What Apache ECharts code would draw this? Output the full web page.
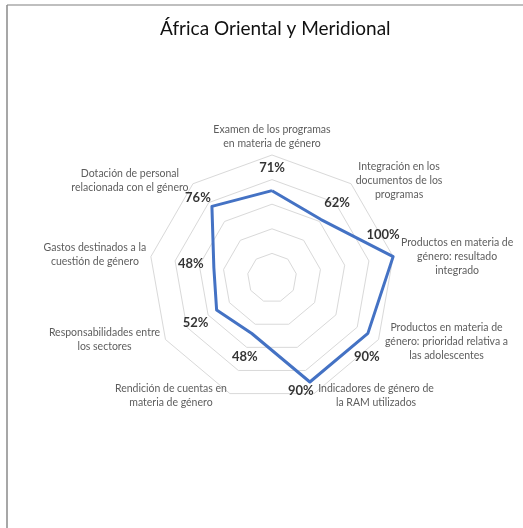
<!DOCTYPE html>
<html>
<head>
<meta charset="utf-8">
<script src="https://cdn.jsdelivr.net/npm/echarts@6/dist/echarts.min.js"></script>
<style>
  html, body { margin: 0; padding: 0; background: #ffffff; }
  #chart { width: 523px; height: 528px; }
</style>
</head>
<body>
<div id="chart"></div>
<script>
// Indicators, listed clockwise starting at the top
const categories = [
  'Examen de los programas\nen materia de género',
  'Integración en los\ndocumentos de los\nprogramas',
  'Productos en materia de\ngénero: resultado\nintegrado',
  'Productos en materia de\ngénero: prioridad relativa a\nlas adolescentes',
  'Indicadores de género de\nla RAM utilizados',
  'Rendición de cuentas en\nmateria de género',
  'Responsabilidades entre\nlos sectores',
  'Gastos destinados a la\ncuestión de género',
  'Dotación de personal\nrelacionada con el género'
];
// Share of criteria met per indicator
const values = [0.71, 0.62, 1.00, 0.90, 0.90, 0.48, 0.52, 0.48, 0.76];
// Ring scale
const scaleMax = 1;
const ringCount = 5;

// Label placement (pixel nudges from each point)
const valueLabelOffsets = [
  [0, -23], [16, -17], [-10, -22], [-1, 23], [-9, 9],
  [-7, 23], [-21, 13], [-23, -4], [-14, -9]
];
const nameLabelOffsets = [
  [0, -18], [48, -3], [64, 0], [68, 2], [62, 2],
  [-59, 2], [-61, 0], [-56, -2], [-63, -3]
];

const CENTER = [272, 278];
const RADIUS = 123;
const FONT = 'Lato, "Noto Sans", sans-serif';

// Radar lays indicators out counter-clockwise; feed it in that order
const ccwOrder = [0].concat(categories.map((_, i) => i).slice(1).reverse());

const chart = echarts.init(document.getElementById('chart'), null, { renderer: 'canvas' });

const fmtPct = v => Math.round(v * 100) + '%';

chart.setOption({
  animation: false,
  backgroundColor: '#ffffff',
  title: {
    text: 'África Oriental y Meridional',
    left: 155,
    top: 14,
    textStyle: { fontFamily: FONT, fontSize: 19, fontWeight: 'normal', color: '#111111' }
  },
  graphic: [
    { type: 'line', shape: { x1: 7, y1: 5, x2: 523, y2: 5 }, style: { stroke: '#bfbfbf', lineWidth: 2 } },
    { type: 'line', shape: { x1: 7, y1: 5, x2: 7, y2: 528 }, style: { stroke: '#8a8a8a', lineWidth: 1.5 } }
  ],
  radar: {
    center: CENTER,
    radius: RADIUS,
    startAngle: 90,
    splitNumber: ringCount,
    shape: 'polygon',
    indicator: ccwOrder.map(i => ({ name: categories[i], min: 0, max: scaleMax })),
    axisName: { show: false },
    axisLine: { show: false },
    axisTick: { show: false },
    axisLabel: { show: false },
    splitLine: { lineStyle: { color: '#d9d9d9', width: 1 } },
    splitArea: { show: false }
  },
  polar: { center: CENTER, radius: RADIUS },
  angleAxis: {
    type: 'category',
    data: categories,
    startAngle: 90,
    clockwise: true,
    boundaryGap: false,
    show: false
  },
  radiusAxis: { min: 0, max: scaleMax, show: false },
  series: [
    {
      type: 'radar',
      symbol: 'none',
      lineStyle: { color: '#4472C4', width: 3, join: 'round' },
      data: [{ value: ccwOrder.map(i => values[i]) }]
    },
    {
      // value labels
      type: 'scatter',
      coordinateSystem: 'polar',
      symbolSize: 1,
      itemStyle: { color: 'rgba(0,0,0,0)' },
      label: {
        show: true,
        position: 'inside',
        fontFamily: FONT,
        fontSize: 13,
        fontWeight: 'bold',
        color: '#000000',
        formatter: p => fmtPct(p.value[0])
      },
      data: categories.map((c, i) => ({
        value: [values[i], c],
        label: { offset: valueLabelOffsets[i] }
      }))
    },
    {
      // indicator names
      type: 'scatter',
      coordinateSystem: 'polar',
      symbolSize: 1,
      itemStyle: { color: 'rgba(0,0,0,0)' },
      label: {
        show: true,
        position: 'inside',
        align: 'center',
        verticalAlign: 'middle',
        fontFamily: FONT,
        fontSize: 10.5,
        lineHeight: 14,
        color: '#333333',
        formatter: p => p.name
      },
      data: categories.map((c, i) => ({
        name: c,
        value: [scaleMax, c],
        label: { offset: nameLabelOffsets[i] }
      }))
    }
  ]
});
</script>
</body>
</html>
